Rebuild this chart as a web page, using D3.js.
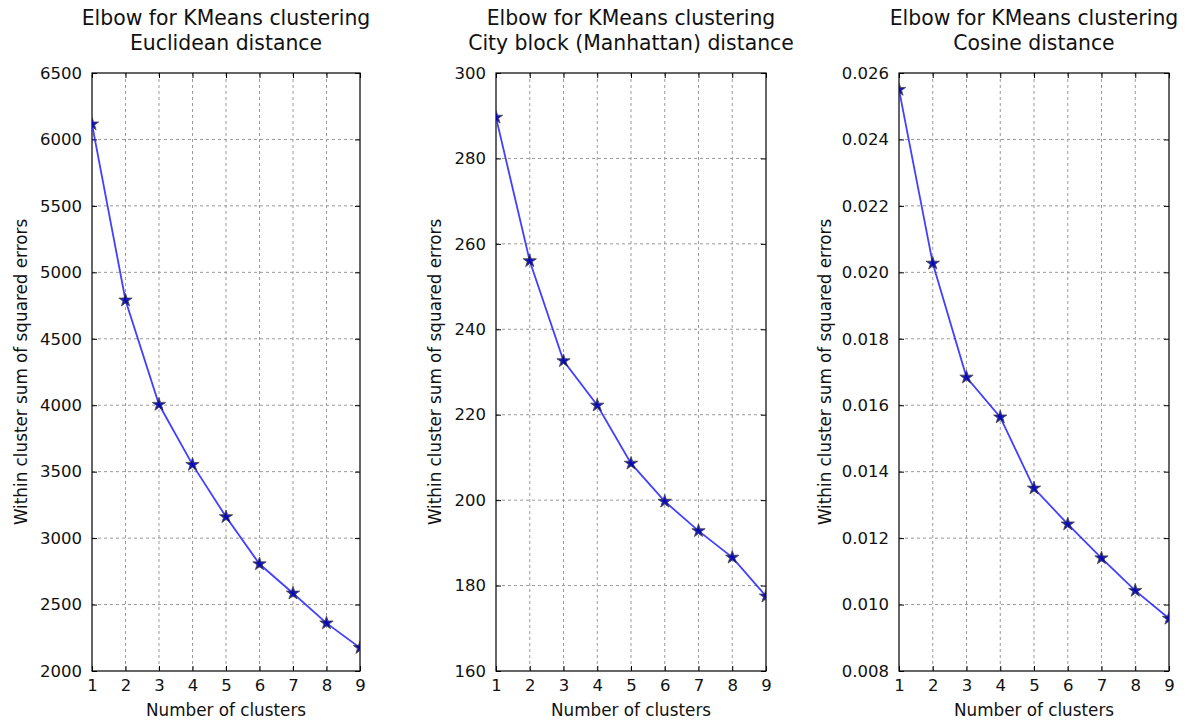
<!DOCTYPE html>
<html>
<head>
<meta charset="utf-8">
<script src="https://cdn.jsdelivr.net/npm/d3@7"></script>
<style>
  html, body { margin: 0; padding: 0; background: #fff; }
  svg { display: block; font-family: "DejaVu Sans", sans-serif; }
</style>
</head>
<body>
<svg id="chart" width="1191" height="723"></svg>
<script>
// Number of clusters k
const clusters = [1, 2, 3, 4, 5, 6, 7, 8, 9];

// Within-cluster sum of squared errors for each distance metric
const euclideanSSE = [6115, 4790, 4005, 3553, 3160, 2805, 2585, 2360, 2175];
const manhattanSSE = [289.6, 256.0, 232.6, 222.2, 208.6, 199.7, 192.8, 186.6, 177.5];
const cosineSSE = [0.0255, 0.02027, 0.01684, 0.01564, 0.0135, 0.01242, 0.0114, 0.01042, 0.00958];

// Y-axis tick values per panel
const euclideanTicks = [2000, 2500, 3000, 3500, 4000, 4500, 5000, 5500, 6000, 6500];
const manhattanTicks = [160, 180, 200, 220, 240, 260, 280, 300];
const cosineTicks = [0.008, 0.010, 0.012, 0.014, 0.016, 0.018, 0.020, 0.022, 0.024, 0.026];

const titles = [
  ["Elbow for KMeans clustering", "Euclidean distance"],
  ["Elbow for KMeans clustering", "City block (Manhattan) distance"],
  ["Elbow for KMeans clustering", "Cosine distance"]
];

const panels = [
  { values: euclideanSSE, ticks: euclideanTicks, fmt: d3.format("d"), title: titles[0], left: 92, right: 360, labelOffset: 65 },
  { values: manhattanSSE, ticks: manhattanTicks, fmt: d3.format("d"), title: titles[1], left: 496, right: 766, labelOffset: 55 },
  { values: cosineSSE, ticks: cosineTicks, fmt: d3.format(".3f"), title: titles[2], left: 899, right: 1169, labelOffset: 68 }
];

const plotTop = 73, plotBottom = 671;
const svg = d3.select("#chart");

panels.forEach((p, i) => {
  const x = d3.scaleLinear().domain([1, 9]).range([p.left, p.right]);
  const y = d3.scaleLinear().domain([p.ticks[0], p.ticks[p.ticks.length - 1]]).range([plotBottom, plotTop]);
  const g = svg.append("g");
  const w = p.right - p.left, h = plotBottom - plotTop;

  // clip region for the plot area
  const clipId = "clip" + i;
  svg.append("clipPath").attr("id", clipId)
    .append("rect").attr("x", p.left).attr("y", plotTop).attr("width", w).attr("height", h);

  // dotted grid
  const grid = g.append("g").attr("stroke", "#9a9a9a").attr("stroke-width", 1)
    .attr("stroke-dasharray", "3,3").attr("fill", "none");
  clusters.slice(1, -1).forEach(k => {
    grid.append("line").attr("x1", x(k)).attr("x2", x(k)).attr("y1", plotTop).attr("y2", plotBottom);
  });
  p.ticks.slice(1, -1).forEach(t => {
    grid.append("line").attr("x1", p.left).attr("x2", p.right).attr("y1", y(t)).attr("y2", y(t));
  });

  // axes (ticks inward on all four sides)
  const xb = g.append("g").attr("transform", `translate(0,${plotBottom})`)
    .call(d3.axisBottom(x).tickValues(clusters).tickFormat(d3.format("d")).tickSizeInner(-5).tickSizeOuter(0).tickPadding(8));
  const xt = g.append("g").attr("transform", `translate(0,${plotTop})`)
    .call(d3.axisTop(x).tickValues(clusters).tickFormat("").tickSizeInner(-5).tickSizeOuter(0));
  const yl = g.append("g").attr("transform", `translate(${p.left},0)`)
    .call(d3.axisLeft(y).tickValues(p.ticks).tickFormat(p.fmt).tickSizeInner(-5).tickSizeOuter(0).tickPadding(10));
  const yr = g.append("g").attr("transform", `translate(${p.right},0)`)
    .call(d3.axisRight(y).tickValues(p.ticks).tickFormat("").tickSizeInner(-5).tickSizeOuter(0));
  [xb, xt, yl, yr].forEach(a => {
    a.select(".domain").remove();
    a.selectAll(".tick line").attr("stroke", "#000").attr("stroke-width", 1);
    a.selectAll("text").attr("font-size", 16.5).attr("fill", "#111")
      .attr("font-family", "DejaVu Sans, sans-serif");
  });
  xb.selectAll("text").attr("dy", "0.71em");

  // frame
  g.append("rect").attr("x", p.left).attr("y", plotTop).attr("width", w).attr("height", h)
    .attr("fill", "none").attr("stroke", "#000").attr("stroke-width", 1.2);

  // series line and star markers
  const pts = clusters.map((k, j) => [k, p.values[j]]);
  const plot = g.append("g").attr("clip-path", `url(#${clipId})`);
  plot.append("path").datum(pts)
    .attr("d", d3.line().x(d => x(d[0])).y(d => y(d[1])))
    .attr("fill", "none").attr("stroke", "#2020ff").attr("stroke-width", 1.8).attr("opacity", 0.85);
  plot.selectAll("path.star").data(pts).enter().append("path").attr("class", "star")
    .attr("d", d3.symbol().type(d3.symbolStar).size(55))
    .attr("transform", d => `translate(${x(d[0])},${y(d[1])})`)
    .attr("fill", "#0000b0").attr("stroke", "#333").attr("stroke-width", 0.8).attr("opacity", 0.9);

  // title
  const cx = (p.left + p.right) / 2;
  g.append("text").attr("x", cx).attr("y", 25).attr("text-anchor", "middle")
    .attr("font-size", 20.4).attr("fill", "#111").text(p.title[0]);
  g.append("text").attr("x", cx).attr("y", 50).attr("text-anchor", "middle")
    .attr("font-size", 20.4).attr("fill", "#111").text(p.title[1]);

  // axis labels
  g.append("text").attr("x", cx).attr("y", 716).attr("text-anchor", "middle")
    .attr("font-size", 16.8).attr("fill", "#111").text("Number of clusters");
  g.append("text").attr("transform", `translate(${p.left - p.labelOffset},${(plotTop + plotBottom) / 2}) rotate(-90)`)
    .attr("text-anchor", "middle").attr("font-size", 16.8).attr("fill", "#111")
    .text("Within cluster sum of squared errors");
});
</script>
</body>
</html>
